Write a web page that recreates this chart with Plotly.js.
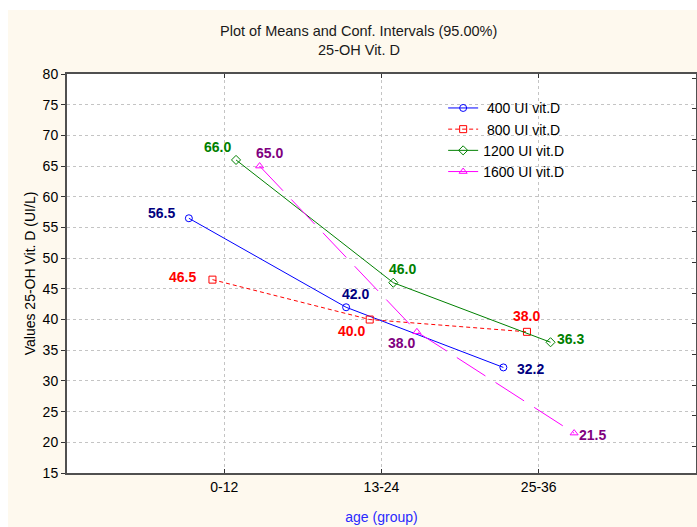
<!DOCTYPE html>
<html>
<head>
<meta charset="utf-8">
<script src="https://cdn.plot.ly/plotly-3.0.1.min.js"></script>
<style>
  html, body { margin: 0; padding: 0; background: #ffffff; }
  #chart { position: absolute; left: 8px; top: 10px; width: 689px; height: 517px; }
</style>
</head>
<body>
<div id="chart"></div>
<script>
// ---- data ----
var categories = ['0-12', '13-24', '25-36'];
var seriesNames = ['400 UI vit.D', '800 UI vit.D', '1200 UI vit.D', '1600 UI vit.D'];
var vals400  = [56.5, 42.0, 32.2];
var vals800  = [46.5, 40.0, 38.0];
var vals1200 = [66.0, 46.0, 36.3];
var vals1600 = [65.0, 38.0, 21.5];
var yTicks = [15, 20, 25, 30, 35, 40, 45, 50, 55, 60, 65, 70, 75, 80];

// ---- styles ----
var FONT = 'Liberation Sans, Arial, sans-serif';
var dodge = [-0.225, -0.075, 0.075, 0.225];
var lineColors = ['#0000ff', '#ff0000', '#008000', '#ff00ff'];
var labelColors = ['#000080', '#ff0000', '#008000', '#800080'];
var symbols = ['circle-open', 'square-open', 'diamond-open', 'triangle-up-open'];
var dashes = ['solid', '4px,3px', 'solid', '34px,12px'];
var legendPad = [' ', ' ', '', ''];
// label offsets from each point, in pixels [dx, dy] (dy positive = up)
var labelShift = [
  [[-27, 5], [9, 13], [27, -2]],
  [[-30, 3], [-18, -11], [0, 16]],
  [[-19, 13], [9, 14], [20, 3]],
  [[10, 13], [-15, -11], [18, -2]]
];
var allVals = [vals400, vals800, vals1200, vals1600];

var traces = allVals.map(function (vals, i) {
  return {
    type: 'scatter',
    mode: 'lines+markers',
    name: legendPad[i] + seriesNames[i],
    legendgroup: 'g' + i,
    x: categories.map(function (c, k) { return k + dodge[i]; }),
    y: vals,
    line: { color: lineColors[i], width: 1, dash: dashes[i] },
    marker: { symbol: symbols[i], size: 7, color: lineColors[i], line: { color: lineColors[i], width: 1 } },
    cliponaxis: false,
    hoverinfo: 'skip'
  };
});

// empty trace for the right-hand inward tick axis
traces.push({ type: 'scatter', x: [], y: [], yaxis: 'y2', showlegend: false, hoverinfo: 'skip' });

var labelAnnotations = [];
allVals.forEach(function (vals, i) {
  vals.forEach(function (v, k) {
    labelAnnotations.push({
      xref: 'x', yref: 'y', x: k + dodge[i], y: v,
      xanchor: 'center', yanchor: 'middle',
      xshift: labelShift[i][k][0], yshift: labelShift[i][k][1],
      text: '<b>' + v.toFixed(1) + '</b>', showarrow: false,
      font: { family: FONT, size: 14, color: labelColors[i] }
    });
  });
});

var layout = {
  width: 689, height: 517,
  margin: { l: 59, r: 1, t: 64, b: 54, autoexpand: false },
  paper_bgcolor: '#fef9ee',
  plot_bgcolor: '#ffffff',
  font: { family: FONT, size: 14, color: '#000000' },
  showlegend: true,
  legend: {
    x: 0.598, y: 0.954, xanchor: 'left', yanchor: 'top',
    bgcolor: 'rgba(0,0,0,0)', borderwidth: 0,
    tracegroupgap: 0,
    font: { family: FONT, size: 14, color: '#000000' }
  },
  xaxis: {
    range: [-1, 3], automargin: false,
    tickmode: 'array', tickvals: [0, 1, 2], ticktext: categories,
    ticks: 'inside', ticklen: 4, tickcolor: '#333333',
    showline: true, linecolor: '#505050', linewidth: 2, mirror: 'ticks',
    showgrid: true, gridcolor: '#c4c4c4', griddash: 'dot', gridwidth: 1,
    zeroline: false,
    tickfont: { family: FONT, size: 14, color: '#000000' },
    title: { text: 'age (group)', font: { family: FONT, size: 14, color: '#2a2aff' }, standoff: 18 },
    fixedrange: true
  },
  yaxis: {
    range: [15, 80], automargin: false,
    tickmode: 'array', tickvals: yTicks,
    ticks: 'outside', ticklen: 4, tickcolor: '#333333',
    showline: true, linecolor: '#505050', linewidth: 2, mirror: true,
    showgrid: true, gridcolor: '#c4c4c4', griddash: 'dot', gridwidth: 1,
    zeroline: false,
    tickfont: { family: FONT, size: 14, color: '#000000' },
    title: { text: 'Values 25-OH Vit. D (UI/L)', font: { family: FONT, size: 14, color: '#000000' }, standoff: 4 },
    fixedrange: true
  },
  yaxis2: {
    overlaying: 'y', side: 'right', anchor: 'x', automargin: false,
    range: [15.7, 80.7],
    tickmode: 'array', tickvals: yTicks,
    ticks: 'inside', ticklen: 4, tickcolor: '#333333',
    showticklabels: false, showgrid: false, zeroline: false, showline: false,
    fixedrange: true
  },
  annotations: [
    { xref: 'paper', yref: 'paper', x: 0.4637, y: 1.108, xanchor: 'center', yanchor: 'middle',
      text: 'Plot of Means and Conf. Intervals (95.00%)', showarrow: false,
      font: { family: FONT, size: 14.5, color: '#1a1a1a' } },
    { xref: 'paper', yref: 'paper', x: 0.4637, y: 1.060, xanchor: 'center', yanchor: 'middle',
      text: '25-OH Vit. D', showarrow: false,
      font: { family: FONT, size: 14.5, color: '#1a1a1a' } }
  ].concat(labelAnnotations)
};

Plotly.newPlot('chart', traces, layout, { displayModeBar: false, staticPlot: true });
</script>
</body>
</html>
